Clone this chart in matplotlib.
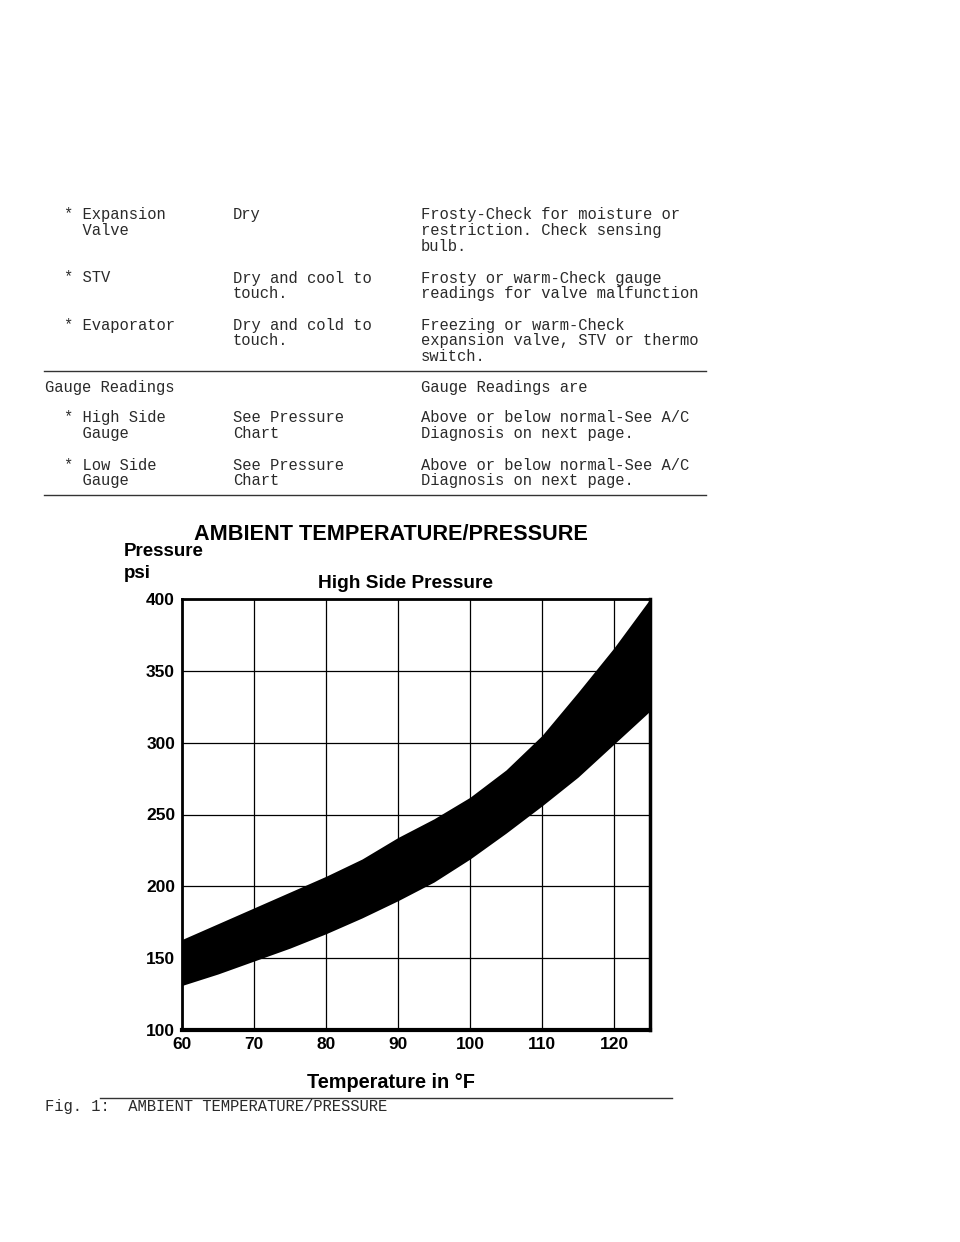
import matplotlib
matplotlib.use("Agg")
import matplotlib.pyplot as plt

# values
temps = [60, 65, 70, 75, 80, 85, 90, 95, 100, 105, 110, 115, 120, 125]
band_high = [163, 174, 185, 196, 207, 219, 234, 247, 262, 281, 305, 335, 366, 400]
band_low = [131, 139, 148, 157, 167, 178, 190, 203, 219, 237, 256, 276, 299, 322]
x_ticks = [60, 70, 80, 90, 100, 110, 120]
y_ticks = [100, 150, 200, 250, 300, 350, 400]

# table rows: (component, normal, abnormal), each a list of lines
rows = [
    (["* Expansion", "  Valve"], ["Dry"],
     ["Frosty-Check for moisture or", "restriction. Check sensing", "bulb."]),
    (["* STV"], ["Dry and cool to", "touch."],
     ["Frosty or warm-Check gauge", "readings for valve malfunction"]),
    (["* Evaporator"], ["Dry and cold to", "touch."],
     ["Freezing or warm-Check", "expansion valve, STV or thermo", "switch."]),
]
gauge_rows = [
    (["* High Side", "  Gauge"], ["See Pressure", "Chart"],
     ["Above or below normal-See A/C", "Diagnosis on next page."]),
    (["* Low Side", "  Gauge"], ["See Pressure", "Chart"],
     ["Above or below normal-See A/C", "Diagnosis on next page."]),
]

W, H = 960, 1242
fig = plt.figure(figsize=(W / 100, H / 100), dpi=100)

def fx(x):
    return x / W

def fy(y):
    return 1 - y / H

mono = dict(family="Liberation Mono", fontsize=11.2, color="#2a2a2a", va="center")
LH = 15.7

def put_row(y, row):
    comp, normal, bad = row
    for i, s in enumerate(comp):
        fig.text(fx(64), fy(y + i * LH), s, **mono)
    for i, s in enumerate(normal):
        fig.text(fx(233), fy(y + i * LH), s, **mono)
    for i, s in enumerate(bad):
        fig.text(fx(421), fy(y + i * LH), s, **mono)

for y, row in zip([215, 278, 325], rows):
    put_row(y, row)
fig.text(fx(45), fy(387), "Gauge Readings", **mono)
fig.text(fx(421), fy(387), "Gauge Readings are", **mono)
for y, row in zip([418, 465], gauge_rows):
    put_row(y, row)

for y, x0, x1 in [(371, 44, 706), (495, 44, 706), (1098, 100, 672)]:
    fig.add_artist(plt.Line2D([fx(x0), fx(x1)], [fy(y), fy(y)],
                              color="#333333", lw=1.0))
fig.text(fx(45), fy(1107), "Fig. 1:  AMBIENT TEMPERATURE/PRESSURE", **mono)

# chart
bold = dict(family="Liberation Sans", weight="bold", color="black")
ax = fig.add_axes([fx(182), fy(1030), fx(650) - fx(182), fy(599) - fy(1030)])
ax.fill_between(temps, band_low, band_high, color="black", lw=0)
ax.set_xlim(60, 125)
ax.set_ylim(100, 400)
ax.set_xticks(x_ticks)
ax.set_yticks(y_ticks)
ax.grid(True, color="black", lw=0.9)
ax.set_axisbelow(True)
for side, lw in [("left", 2.0), ("bottom", 3.0), ("right", 2.5), ("top", 2.0)]:
    ax.spines[side].set_linewidth(lw)
ax.tick_params(length=0, pad=5)
for lab in ax.get_xticklabels() + ax.get_yticklabels():
    lab.set_fontfamily("Liberation Sans")
    lab.set_fontweight("bold")
    lab.set_fontsize(12.5)

fig.text(fx(391), fy(535), "AMBIENT TEMPERATURE/PRESSURE", fontsize=15.6,
         ha="center", va="center", **bold)
fig.text(fx(124), fy(552), "Pressure", fontsize=13.5, ha="left", va="center", **bold)
fig.text(fx(124), fy(573), "psi", fontsize=13.5, ha="left", va="center", **bold)
fig.text(fx(406), fy(584), "High Side Pressure", fontsize=13.8, ha="center",
         va="center", **bold)
fig.text(fx(391), fy(1082), "Temperature in °F", fontsize=14.3, ha="center",
         va="center", **bold)

fig.savefig("out.png", dpi=100, facecolor="white")
